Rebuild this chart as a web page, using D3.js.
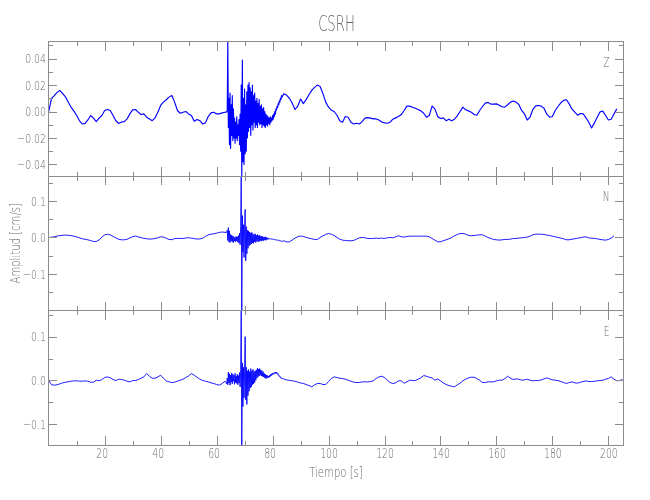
<!DOCTYPE html>
<html>
<head>
<meta charset="utf-8">
<script src="https://cdn.jsdelivr.net/npm/d3@7"></script>
<style>
  body { margin: 0; background: #fff; }
  svg { will-change: transform; }
  text { font-family: "DejaVu Sans", sans-serif; font-weight: 300; fill: #686868; }
</style>
</head>
<body>
<script>
// station and components
const station = "CSRH";
const components = ["Z", "N", "E"];

// sampling of the traces (values in 0.001 cm/s)
const preStart = 0, preStep = 1;       // 0 .. 63 s
const burstStart = 63.6, burstStep = 0.2; // 63.6 .. 83.4 s
const postStart = 84, postStep = 1;    // 84 s .. end

const zPre = [
  0, 10, 12, 14.5, 16, 13.5, 11, 7, 3.3, 0.3,
  -3, -7, -9.4, -9, -6.4, -3, -5, -7.6, -5, -3,
  0.8, 1.5, 0.8, -3, -7, -9, -8, -7.6, -5.6, -1.8,
  1.3, 1.5, -0.5, -2.3, -1.8, -4.3, -5.6, -6.9, -4.8, -0.5,
  4.6, 7.1, 8.9, 10.9, 12.2, 7.1, 0.8, -1.3, -0.5, 0,
  -1.8, -3, -7.4, -6.1, -6.9, -9.4, -8.6, -3.8, -1, -0.5,
  -1.8, -1.8, -1, -0.5
];
const zBurst = [
  -0.5, 1, 53, -12, 10, -25, 14, -28, 5, -18,
  12, -22, 2, -20, -5, -24, -8, -20, -4, -22,
  -10, -18, -6, -25, -2, -30, 20, -48.8, 39, -38,
  10, -40, 17, -32, 5, -30, 15, -20, 20, -15,
  22, -12, 18, -18, 15, -10, 20, -14, 12, -8,
  14, -12, 8, -10, 10, -12, 6, -8, 9, -10,
  4, -9, 5, -12, 2, -10, 3, -11, 0, -12,
  -2, -10, -3, -11, -4, -9, -5, -10, -4, -8,
  -5, -7, -3, -6, -2, -4, 0, -2, 2, 1,
  4, 3, 6, 5, 8, 7, 10, 9, 12, 11
];
const zPost = [
  13.5, 12.5, 10, 6.5, 1.5, 4, 9.5, 6, 9, 12.7,
  16, 18.3, 20, 19, 13.5, 7.1, 3.3, 1, 0, -2.8,
  -6.9, -8.1, -3.8, -4.3, -8.1, -9.4, -8.9, -9.4, -7.6, -5,
  -4.6, -5, -5.6, -5.6, -6.4, -7.9, -8.6, -8.9, -8.1, -5.8,
  -4.8, -3.8, -2.3, 0.8, 4.1, 4.1, 3.3, 2.5, 1.5, 0.5,
  -1.3, -4.3, -3, 4.1, 2, -3.8, -5.3, -4.8, -6.9, -5.8,
  -6.9, -5.8, -3.3, 0, 3.3, 1.3, 0.5, -0.5, -2.3, -2.8,
  0.8, 3.8, 6.4, 6.9, 5.6, 5.6, 5.8, 4.8, 3.6, 3.3,
  5.1, 7.1, 7.9, 7.1, 5.3, 0.8, -1.8, -6.4, -4.3, 1.5,
  4.3, 4.6, 4.1, 2.5, -2, -4.3, -3.8, 0.8, 3.8, 6.6,
  8.4, 8.9, 5.8, 1.8, -0.5, -2.8, -1.5, -1.8, -4.8, -8.1,
  -12.4, -8.6, -4.3, -0.3, 0.3, -3, -6.4, -5.8, -1.8, 2
];

const nPre = [
  0, 0.5, 2, 4, 5, 6, 6.4, 6, 5, 3.5,
  1.5, -1, -3.5, -5, -6.5, -8.5, -11, -11, -7, 1,
  7, 9, 7, 3, -1, -5, -6.4, -6.4, -5, -1,
  2, 4, 1.5, -0.5, -2.5, -3.5, -4.5, -4, -3, -1,
  2, 1, -2, -5.5, -6, -3, -2.7, -2.5, -2.7, -1.5,
  -0.5, -2, -3, -4.5, -4, -2, 3, 7, 9, 10,
  11.8, 14, 15, 14
];
const nBurst = [
  14, 20, -8, 27, -12, 18, -14, 8, -10, 6,
  -12, 4, -14, 2, -10, 0, -12, 3, -9, 2,
  -13, 5, -15, 12, -20, 30, 168.6, -200.3, 60, -40,
  35, -55, 25, 77, -64, 30, -45, 20, -30, 18,
  -23, 15, -20, 12, -18, 14, -15, 10, -16, 8,
  -12, 10, -14, 6, -10, 8, -12, 5, -11, 6,
  -9, 3, -10, 4, -8, 2, -9, 1, -7, 2,
  -8, 0, -6, -1, -5, -2, -4, -3, -5, -3,
  -4, -5, -4, -6, -5, -6, -5, -7, -6, -7,
  -6, -8, -7, -8, -9, -8, -10, -9, -10, -11
];
const nPost = [
  -9, -12, -12, -7, -2, 2, 4, 3,
  0, -2, -3.6, -5.5, -5.5, 0, 4.6, 8.2, 10.9, 9,
  5.5, 0, -4.6, -7.3, -8.2, -9, -9, -8.2, -4.6, -1,
  0, -1, -2.7, -2.7, -2.7, -1.8, -2.7, -1.8, -2.7, -1,
  0, -1, 1.8, 4.6, 1.8, 1, 2.7, 3.6, 3.6, 3.6,
  3.6, 3.6, 3.6, 3.6, 1.8, -2.7, -7.3, -11.8, -11.8, -9,
  -6.4, -3.6, 0, 4.6, 8.2, 10.9, 10.9, 9, 5.5, 4.6,
  5.5, 6.4, 7.3, 7.3, 3.6, 0, -2.7, -5.5, -6.4, -7.3,
  -6.4, -5.5, -5.5, -4.6, -2.7, -2.7, -1.8, -1, 0, 1,
  3.6, 7.3, 9, 9, 9, 8.2, 6.4, 5.5, 3.6, 1.8,
  0, -1.8, -3.6, -6.4, -6.4, -4.6, -3.6, -1.8, -1, 1,
  1.8, -1, -1.8, -2.7, -3.6, -5.5, -6.4, -7.3, -5.5, -1.8, 4.6
];

const ePre = [
  0, -10, -11, -10, -8, -5.7, -4.2, -3.4, -1.9, -1.1,
  -1.1, -1.9, -1.9, -1.1, -1.9, -4.2, -4.2, 0.4, -1.1, 1.9,
  6.5, 8, 5.7, 1.9, -0.4, 2.7, 1.9, 0.4, -1.9, -3.4,
  -0.4, -0.4, 1.9, 4.9, 8, 15.6, 9.5, 4.9, 4.9, 8,
  11.8, 4.9, -1.1, -3.4, -4.9, -4.2, -1.9, 0.4, 2.7, 6.5,
  10.3, 15.6, 11.8, 7.2, 2.7, -0.4, -1.9, -3.4, -5.7, -7.2,
  -9.5, -11, -7, -2
];
const eBurst = [
  -8, 5, -10, 19, -6, 15, -11, 12, -4, 17,
  -8, 14, -2, 12, -9, 16, -5, 10, -7, 14,
  -10, 11, -6, 18, -15, 25, 160, -148, 40, -60,
  30, -40, 20, 100, -45, 30, -55, 22, -35, 25,
  -25, 20, -18, 27, -15, 22, -10, 25, -8, 20,
  -5, 22, 0, 24, 5, 28, 8, 26, 10, 27,
  12, 24, 10, 22, 9, 20, 8, 16, 6, 14,
  4, 12, 5, 11, 6, 10, 7, 12, 9, 14,
  11, 16, 13, 17, 14, 18, 16, 19, 16, 19,
  15, 17, 12, 13, 9, 10, 6, 7, 4, 5
];
const ePost = [
  3, 1, 0, -1, -2, -4, -6, -7,
  -9.5, -11.8, -14.8, -10.3, -7.2, -7.2, -9.5, -9.5, -2.7, 4.2,
  8, 6.5, 4.9, 4.2, 2.7, 0.4, -1.9, -4.2, -4.9, -4.9,
  -3.4, -3.4, -3.4, -2.7, -1.1, 4.2, 8, 9.5, 6.5, 0.4,
  -4.9, -7.2, -5.7, -1.1, -1.1, -6.5, -3.4, 0.4, -0.4, -0.4,
  2.7, 5.7, 11, 9.5, 7.2, 5.7, 0.4, 3.4, -1.1, -5.7,
  -9.5, -11.8, -13.3, -14.8, -10.3, -6.5, -1.1, 2.7, 5.7, 7.2,
  7.2, 4.2, 0.4, -4.9, -4.9, -3.4, -3.4, -3.4, -1.1, 0.4,
  0.4, 4.2, 9.5, 4.9, 1.9, 3.4, 2.7, 0.4, 1.1, 2.7,
  0.4, -1.1, -0.4, -0.4, 1.1, 3.4, 5.7, 3.4, 1.1, 0.4,
  -0.4, -2.7, -4.9, -7.2, -4.9, -3.4, -5.7, -6.5, -4.2, -2.7,
  -1.1, -2.7, -2.7, -1.9, -1.1, -0.4, 0.4, 2.7, 4.2, 8, 2.7, -1.1, -0.4, 1.9
];

const traces = [
  [zPre, zBurst, zPost],
  [nPre, nBurst, nPost],
  [ePre, eBurst, ePost]
];

// axis ticks
const timeTicks = [20, 40, 60, 80, 100, 120, 140, 160, 180, 200];
const timeMinor = [10, 30, 50, 70, 90, 110, 130, 150, 170, 190];
const ampTicks = [
  [-0.04, -0.02, 0, 0.02, 0.04],
  [-0.1, 0, 0.1],
  [-0.1, 0, 0.1]
];
const ampMinor = [
  [-0.03, -0.01, 0.01, 0.03, 0.05],
  [-0.15, -0.05, 0.05, 0.15],
  [-0.05, 0.05, 0.15]
];
const ampFormat = [".2f", ".1f", ".1f"];

const width = 650,
  height = 500,
  plotLeft = 48,
  plotRight = 623.5,
  plotTop = 41.5,
  panelH = 134.5,
  major = 9,
  minor = 4.5,
  axisColor = "#8c8c8c";

const x = d3.scaleLinear([-0.25, 205.4], [plotLeft, plotRight]);

function build(pre, burst, post) {
  const pts = [];
  pre.forEach((v, i) => pts.push([preStart + i * preStep, v * 1e-3]));
  burst.forEach((v, i) => pts.push([burstStart + i * burstStep, v * 1e-3]));
  post.forEach((v, i) => pts.push([postStart + i * postStep, v * 1e-3]));
  return pts;
}

// hershey-like narrow lettering
function squeeze(sel, k) {
  sel.each(function() {
    const w = this.getComputedTextLength();
    d3.select(this).attr("textLength", w * k).attr("lengthAdjust", "spacingAndGlyphs");
  });
}

const svg = d3
  .select("body")
  .append("svg")
    .attr("width", width)
    .attr("height", height);

components.forEach((comp, i) => {
  const data = build(...traces[i]);
  const y = d3.scaleLinear(d3.extent(data, d => d[1]), [panelH, 0]);

  const g = svg
    .append("g")
      .attr("transform", "translate(0," + (plotTop + i * panelH) + ")");

  const line = d3
    .line()
    .x(d => x(d[0]))
    .y(d => y(d[1]));

  g.append("path")
    .attr("d", line(data))
    .attr("fill", "none")
    .attr("stroke", "#0000ff")
    .attr("stroke-width", i === 0 ? 1.15 : 0.9)
    .attr("stroke-linejoin", "round");

  const axes = g.append("g")
    .attr("color", axisColor)
    .attr("shape-rendering", "crispEdges");

  // left: labelled major ticks + minor ticks
  axes.append("g")
    .attr("transform", "translate(" + plotLeft + ",0)")
    .call(d3.axisLeft(y).tickValues(ampTicks[i]).tickSize(-major).tickPadding(2).tickFormat(d3.format(ampFormat[i])))
    .attr("font-size", 13)
    .call(a => a.selectAll("text").call(squeeze, 0.72));
  axes.append("g")
    .attr("transform", "translate(" + plotLeft + ",0)")
    .call(d3.axisLeft(y).tickValues(ampMinor[i]).tickSize(-minor).tickFormat(""));

  // right
  axes.append("g")
    .attr("transform", "translate(" + plotRight + ",0)")
    .call(d3.axisRight(y).tickValues(ampTicks[i]).tickSize(-major).tickFormat(""));
  axes.append("g")
    .attr("transform", "translate(" + plotRight + ",0)")
    .call(d3.axisRight(y).tickValues(ampMinor[i]).tickSize(-minor).tickFormat(""));

  // top
  axes.append("g")
    .call(d3.axisTop(x).tickValues(timeTicks).tickSize(-major).tickFormat(""));
  axes.append("g")
    .call(d3.axisTop(x).tickValues(timeMinor).tickSize(-minor).tickFormat(""));

  // bottom
  const bottom = axes.append("g")
    .attr("transform", "translate(0," + panelH + ")")
    .call(d3.axisBottom(x).tickValues(timeTicks).tickSize(-major).tickPadding(3)
      .tickFormat(i === components.length - 1 ? d3.format("d") : ""))
    .attr("font-size", 14);
  bottom.selectAll("text")
    .attr("dx", d => (d < 100 ? -3 : 0))
    .call(squeeze, 0.66);
  axes.append("g")
    .attr("transform", "translate(0," + panelH + ")")
    .call(d3.axisBottom(x).tickValues(timeMinor).tickSize(-minor).tickFormat(""));

  axes.selectAll(".domain").remove();

  axes.append("rect")
    .attr("x", plotLeft)
    .attr("y", 0)
    .attr("width", plotRight - plotLeft)
    .attr("height", panelH)
    .attr("fill", "none")
    .attr("stroke", axisColor);

  g.append("text")
    .attr("x", 609.5)
    .attr("y", 25)
    .attr("text-anchor", "end")
    .attr("font-size", 14)
    .text(comp)
    .call(squeeze, 0.65);
});

svg.append("text")
  .attr("x", 336.5)
  .attr("y", 30.5)
  .attr("text-anchor", "middle")
  .attr("font-size", 22)
  .text(station)
  .call(squeeze, 0.6);

svg.append("text")
  .attr("x", 336)
  .attr("y", 477)
  .attr("text-anchor", "middle")
  .attr("font-size", 14)
  .text("Tiempo [s]")
  .call(squeeze, 0.72);

svg.append("text")
  .attr("transform", "translate(19.5," + (plotTop + 1.5 * panelH) + ") rotate(-90)")
  .attr("text-anchor", "middle")
  .attr("font-size", 14)
  .text("Amplitud [cm/s]")
  .call(squeeze, 0.72);
</script>
</body>
</html>
